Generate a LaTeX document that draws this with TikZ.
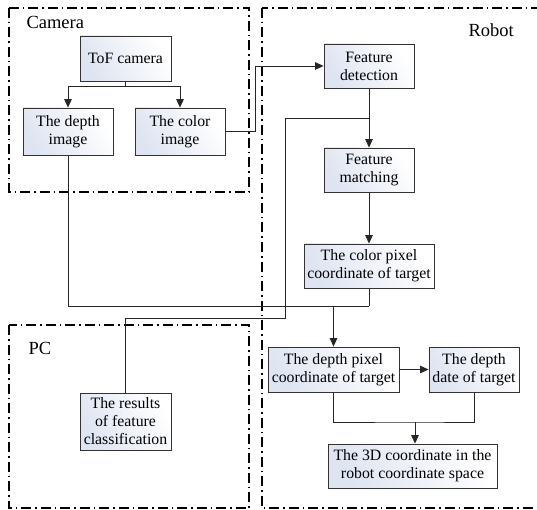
\documentclass[tikz,border=0pt]{standalone}
\usepackage{fontspec}
\setmainfont{Liberation Serif}
\usetikzlibrary{arrows.meta}

\definecolor{boxtint}{RGB}{222,228,241}

\tikzset{
  part/.style={line width=1.2pt, dash pattern=on 10pt off 4pt on 1.5pt off 4pt},
  partname/.style={anchor=west, font=\fontsize{18.5}{20}\selectfont},
  box/.style={draw=black!80, line width=0.8pt, left color=boxtint, right color=white, shading angle=120,
    align=center, inner sep=0pt, font=\fontsize{15.8}{18}\selectfont},
  link/.style={draw=black!85, line width=0.9pt},
  go/.style={link, -{Triangle[length=8.5pt,width=7.5pt]}}
}

\begin{document}
\begin{tikzpicture}[x=1pt, y=-1pt]
\useasboundingbox (0,0) rectangle (537,510);
\clip (0,0) rectangle (537,510);

% the three parts
\draw[part] (9,8) rectangle (249,192);
\node[partname] (camlabel) at (23,22) {Camera};
\draw[part] (262,8) rectangle (545,508);
\node[partname] (robotlabel) at (465,30) {Robot};
\draw[part] (9,325) rectangle (249,508);
\node[partname] (pclabel) at (25,348) {PC};

% camera
\node[box, minimum width=91pt, minimum height=45pt] (tof) at (125.5,58.5) {ToF camera};
\node[box, minimum width=90pt, minimum height=47pt] (depth) at (68,131.5) {The depth\\image};
\node[box, minimum width=90pt, minimum height=47pt] (color) at (180,131.5) {The color\\image};

% robot
\node[box, minimum width=90pt, minimum height=44pt] (detect) at (369,66) {Feature\\detection};
\node[box, minimum width=90pt, minimum height=44pt] (match) at (369,170) {Feature\\matching};
\node[box, minimum width=130pt, minimum height=44pt] (cpix) at (369,266) {The color pixel\\coordinate of target};
\node[box, minimum width=131pt, minimum height=45pt] (dpix) at (333.5,369.5) {The depth pixel\\coordinate of target};
\node[box, minimum width=90pt, minimum height=45pt] (ddate) at (474,369.5) {The depth\\date of target};
\node[box, minimum width=169pt, minimum height=44pt] (coord) at (412.5,466) {The 3D coordinate in the\\robot coordinate space};

% pc
\node[box, minimum width=91pt, minimum height=57pt] (result) at (125.5,421.5) {The results\\of feature\\classification};

% connectors
\coordinate (split) at (125.5,86);
\coordinate (tap) at (369,118);
\coordinate (meet) at (369,306);
\coordinate (join) at (415,422);

\draw[link] (tof.south) -- (split);
\draw[go] (split) -| (depth.north);
\draw[go] (split) -| (color.north);
\draw[go] (color.east) -- ++(30,0) |- (detect.west);
\draw[go] (detect) -- (match);
\draw[link] (tap) -- (285,118) -- (285,318) -| (result.north);
\draw[go] (match) -- (cpix);
\draw[link] (depth.south) |- (meet);
\draw[link] (cpix.south) -- (meet);
\draw[go] (dpix.north |- meet) -- (dpix.north);
\draw[go] (dpix) -- (ddate);
\draw[link] (dpix.south) |- (join) -| (ddate.south);
\draw[go] (join) -- (join |- coord.north);
\end{tikzpicture}
\end{document}
